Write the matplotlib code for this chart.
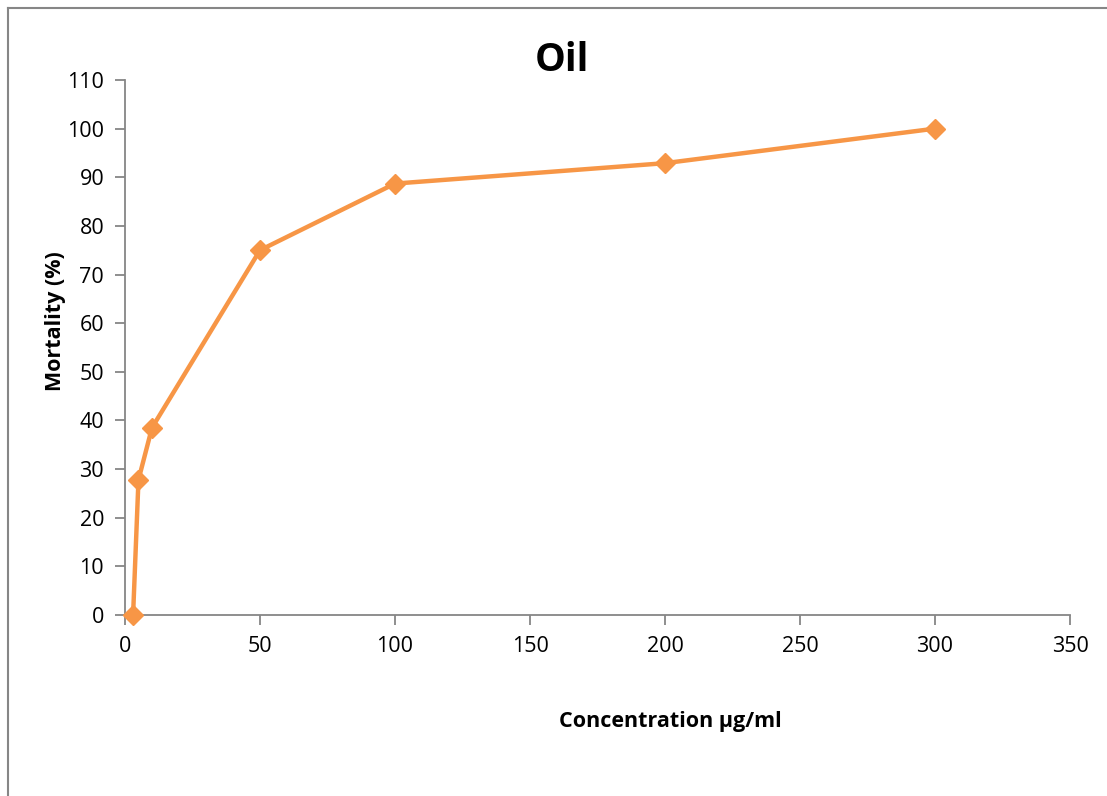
import matplotlib.pyplot as plt
from matplotlib.lines import Line2D

conc = [3, 5, 10, 50, 100, 200, 300]
mortality = [0, 27.8, 38.5, 75, 88.7, 92.9, 100]
x_ticks = [0, 50, 100, 150, 200, 250, 300, 350]
y_ticks = [0, 10, 20, 30, 40, 50, 60, 70, 80, 90, 100, 110]

plt.rcParams['font.family'] = ['Open Sans', 'DejaVu Sans']

fig = plt.figure(figsize=(11.07, 7.96), dpi=100)
ax = fig.add_axes([0.1129, 0.2274, 0.8537, 0.6721])

ax.plot(conc, mortality, color='#F79646', linewidth=3.2, marker='D',
        markersize=10, markerfacecolor='#F79646', markeredgecolor='#F79646',
        clip_on=False, zorder=3)

ax.set_xlim(0, 350)
ax.set_ylim(0, 110)
ax.set_xticks(x_ticks)
ax.set_yticks(y_ticks)

for s in ['top', 'right']:
    ax.spines[s].set_visible(False)
for s in ['left', 'bottom']:
    ax.spines[s].set_color('#868686')
    ax.spines[s].set_linewidth(1.3)
ax.tick_params(direction='out', length=7, width=1.3, color='#868686',
               labelsize=15.5, pad=8)

ax.set_xlabel('Concentration µg/ml', fontsize=15.5, fontweight='bold')
ax.xaxis.set_label_coords(0.577, -0.18)
ax.set_ylabel('Mortality (%)', fontsize=15.5, fontweight='bold')
ax.yaxis.set_label_coords(-0.062, 0.55)

fig.text(0.508, 0.924, 'Oil', fontsize=28, fontweight='bold', ha='center', va='center')

# chart frame (cropped: only left and top visible)
fig.add_artist(Line2D([0.0075, 0.0075], [0, 0.99], color='#868686', linewidth=1.5))
fig.add_artist(Line2D([0.0075, 1.0], [0.99, 0.99], color='#868686', linewidth=1.5))

fig.savefig('out.png', dpi=100)
